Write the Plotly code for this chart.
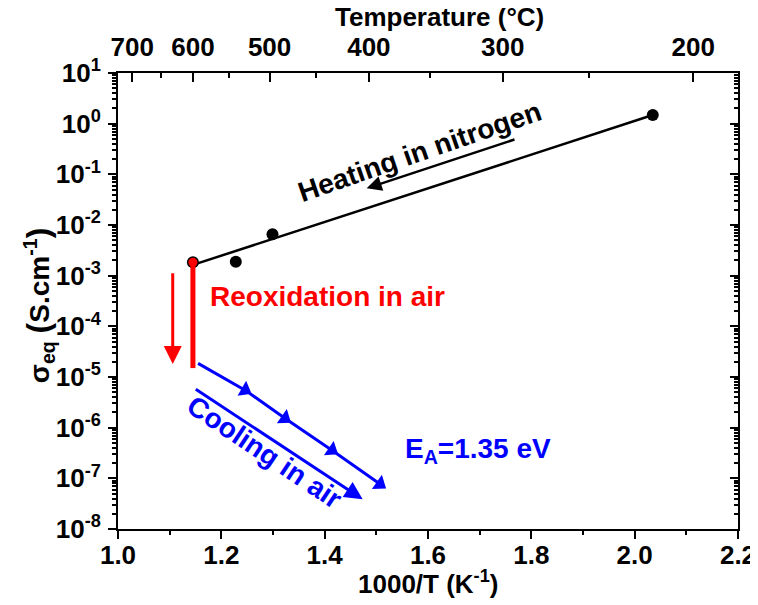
import plotly.graph_objects as go

# ---- data ----
heat_x = [1.145, 1.228, 1.299, 2.035]
heat_y = [1.84e-3, 1.88e-3, 6.55e-3, 1.48]
fit_x = [1.145, 2.035]
fit_y = [1.63e-3, 1.48]
reox_x = [1.145, 1.145]
reox_y = [1.84e-3, 1.5e-5]
cool_x = [1.155, 1.246, 1.323, 1.414, 1.507]
cool_y = [1.86e-5, 5.5e-6, 1.53e-6, 3.6e-7, 7.7e-8]
temp_major = [700, 600, 500, 400, 300, 200]
temp_minor = [650, 550, 450, 350, 250]
x_ticks = [1.0, 1.2, 1.4, 1.6, 1.8, 2.0, 2.2]
y_exps = [-8, -7, -6, -5, -4, -3, -2, -1, 0, 1]

FONT = "Liberation Sans, Arial, sans-serif"
BLUE = "#0000FF"
RED = "#FF0000"

fig = go.Figure()
fig.add_trace(go.Scatter(x=fit_x, y=fit_y, mode="lines",
                         line=dict(color="black", width=2.5), showlegend=False))
fig.add_trace(go.Scatter(x=heat_x, y=heat_y, mode="markers",
                         marker=dict(color="black", size=12, symbol="circle"), showlegend=False))
fig.add_trace(go.Scatter(x=reox_x, y=reox_y, mode="lines",
                         line=dict(color=RED, width=5), showlegend=False))
fig.add_trace(go.Scatter(x=reox_x[:1], y=reox_y[:1], mode="markers",
                         marker=dict(color=RED, size=9, symbol="circle"), showlegend=False))
fig.add_trace(go.Scatter(x=cool_x, y=cool_y, mode="lines+markers",
                         line=dict(color=BLUE, width=3),
                         marker=dict(color=BLUE, size=15, symbol="triangle-up", angleref="previous"),
                         showlegend=False))
# invisible trace on secondary axes
fig.add_trace(go.Scatter(x=[1.5], y=[1e-3], xaxis="x2", yaxis="y2", mode="markers",
                         marker=dict(opacity=0), showlegend=False, hoverinfo="skip"))

tick_font = dict(family=FONT, size=26, color="black", weight="bold")

# page body has an 8px default margin: compensate in figure size/margins
fig.update_layout(
    width=750, height=597,
    margin=dict(l=110, r=20, t=65, b=76),
    plot_bgcolor="white", paper_bgcolor="white",
    font=dict(family=FONT, color="black"),
    xaxis=dict(range=[1.0, 2.2], tickvals=x_ticks, ticktext=[f"{v:.1f}" for v in x_ticks],
               ticks="outside", ticklen=8, tickwidth=2, tickcolor="black",
               minor=dict(dtick=0.1, tick0=1.0, ticks="outside", ticklen=4, tickwidth=2, tickcolor="black"),
               showline=True, linewidth=2, linecolor="black", showgrid=False, zeroline=False,
               tickfont=tick_font, automargin=False, ticklabelstandoff=-6),
    xaxis2=dict(overlaying="x", side="top", anchor="y", range=[1.0, 2.2],
                tickmode="array", tickvals=[1000 / (t + 273.15) for t in temp_major],
                ticktext=[str(t) for t in temp_major],
                ticks="inside", ticklen=9, tickwidth=2, tickcolor="black",
                minor=dict(tickmode="array", tickvals=[1000 / (t + 273.15) for t in temp_minor],
                           ticks="inside", ticklen=5, tickwidth=2, tickcolor="black"),
                showline=True, linewidth=2, linecolor="black", showgrid=False, zeroline=False,
                tickfont=tick_font, ticklabelstandoff=5, automargin=False),
    yaxis=dict(type="log", range=[-8, 1], tickmode="array",
               tickvals=[10.0 ** e for e in y_exps],
               ticktext=[f"10<sup>{e}</sup>" for e in y_exps],
               ticks="outside", ticklen=8, tickwidth=2, tickcolor="black",
               minor=dict(ticks="outside", ticklen=4, tickwidth=1.5, tickcolor="black", dtick="D1"),
               showline=True, linewidth=2, linecolor="black", showgrid=False, zeroline=False,
               tickfont=tick_font, automargin=False, ticklabelstandoff=2),
    yaxis2=dict(type="log", overlaying="y", side="right", anchor="x", range=[-8, 1], dtick=1,
                ticks="inside", ticklen=8, tickwidth=2, tickcolor="black", showticklabels=False,
                minor=dict(ticks="inside", ticklen=4, tickwidth=1.5, tickcolor="black", dtick="D1"),
                showline=True, linewidth=2, linecolor="black", showgrid=False, zeroline=False,
                automargin=False),
)

ann_font = dict(family=FONT, size=28, weight="bold")
annotations = [
    # top axis title
    dict(text="Temperature (°C)", xref="paper", yref="paper", x=0.519, y=1.122,
         xanchor="center", yanchor="middle",
         showarrow=False, font=dict(family=FONT, size=26, weight="bold", color="black")),
    # bottom axis title
    dict(text="1000/T (K<sup>-1</sup>)", xref="paper", yref="paper", x=0.5, y=-0.118,
         xanchor="center", yanchor="middle",
         showarrow=False, font=dict(family=FONT, size=26, weight="bold", color="black")),
    # y axis title
    dict(text='σ<sub>eq</sub> <span style="font-size:32px">(</span>S.cm<sup>-1</sup><span style="font-size:32px">)</span>',
         xref="paper", yref="paper", x=-0.128, y=0.49,
         xanchor="center", yanchor="middle",
         textangle=-90, showarrow=False, font=dict(family=FONT, size=28, weight="bold", color="black")),
    # heating
    dict(text="Heating in nitrogen", x=1.5845, y=-0.54, xref="x", yref="y", showarrow=False,
         xanchor="center", yanchor="middle",
         textangle=-19, font=dict(ann_font, color="black")),
    dict(text="", x=1.4813, y=-1.276, ax=1.7703, ay=-0.303, xref="x", yref="y", axref="x", ayref="y",
         showarrow=True, arrowhead=2, arrowsize=1.2, arrowwidth=2.5, arrowcolor="black"),
    # reoxidation
    dict(text="Reoxidation in air", x=1.1742, y=-3.402, xref="x", yref="y", xanchor="left",
         yanchor="middle", showarrow=False, font=dict(ann_font, color=RED)),
    dict(text="", x=1.1059, y=-4.744, ax=1.1059, ay=-2.922, xref="x", yref="y", axref="x", ayref="y",
         showarrow=True, arrowhead=2, arrowsize=1.2, arrowwidth=3, arrowcolor=RED),
    # cooling
    dict(text="Cooling in air", x=1.2845, y=-6.49, xref="x", yref="y", showarrow=False,
         xanchor="center", yanchor="middle",
         textangle=33.7, font=dict(ann_font, color=BLUE)),
    dict(text="", x=1.4736, y=-7.414, ax=1.1477, ay=-5.223, xref="x", yref="y", axref="x", ayref="y",
         showarrow=True, arrowhead=2, arrowsize=1.2, arrowwidth=3, arrowcolor=BLUE),
    dict(text="E<sub>A</sub>=1.35 eV", x=1.551, y=-6.45, xref="x", yref="y", xanchor="left",
         yanchor="middle", showarrow=False, font=dict(ann_font, color=BLUE)),
]
fig.update_layout(annotations=annotations)

fig.write_html("out.html")
